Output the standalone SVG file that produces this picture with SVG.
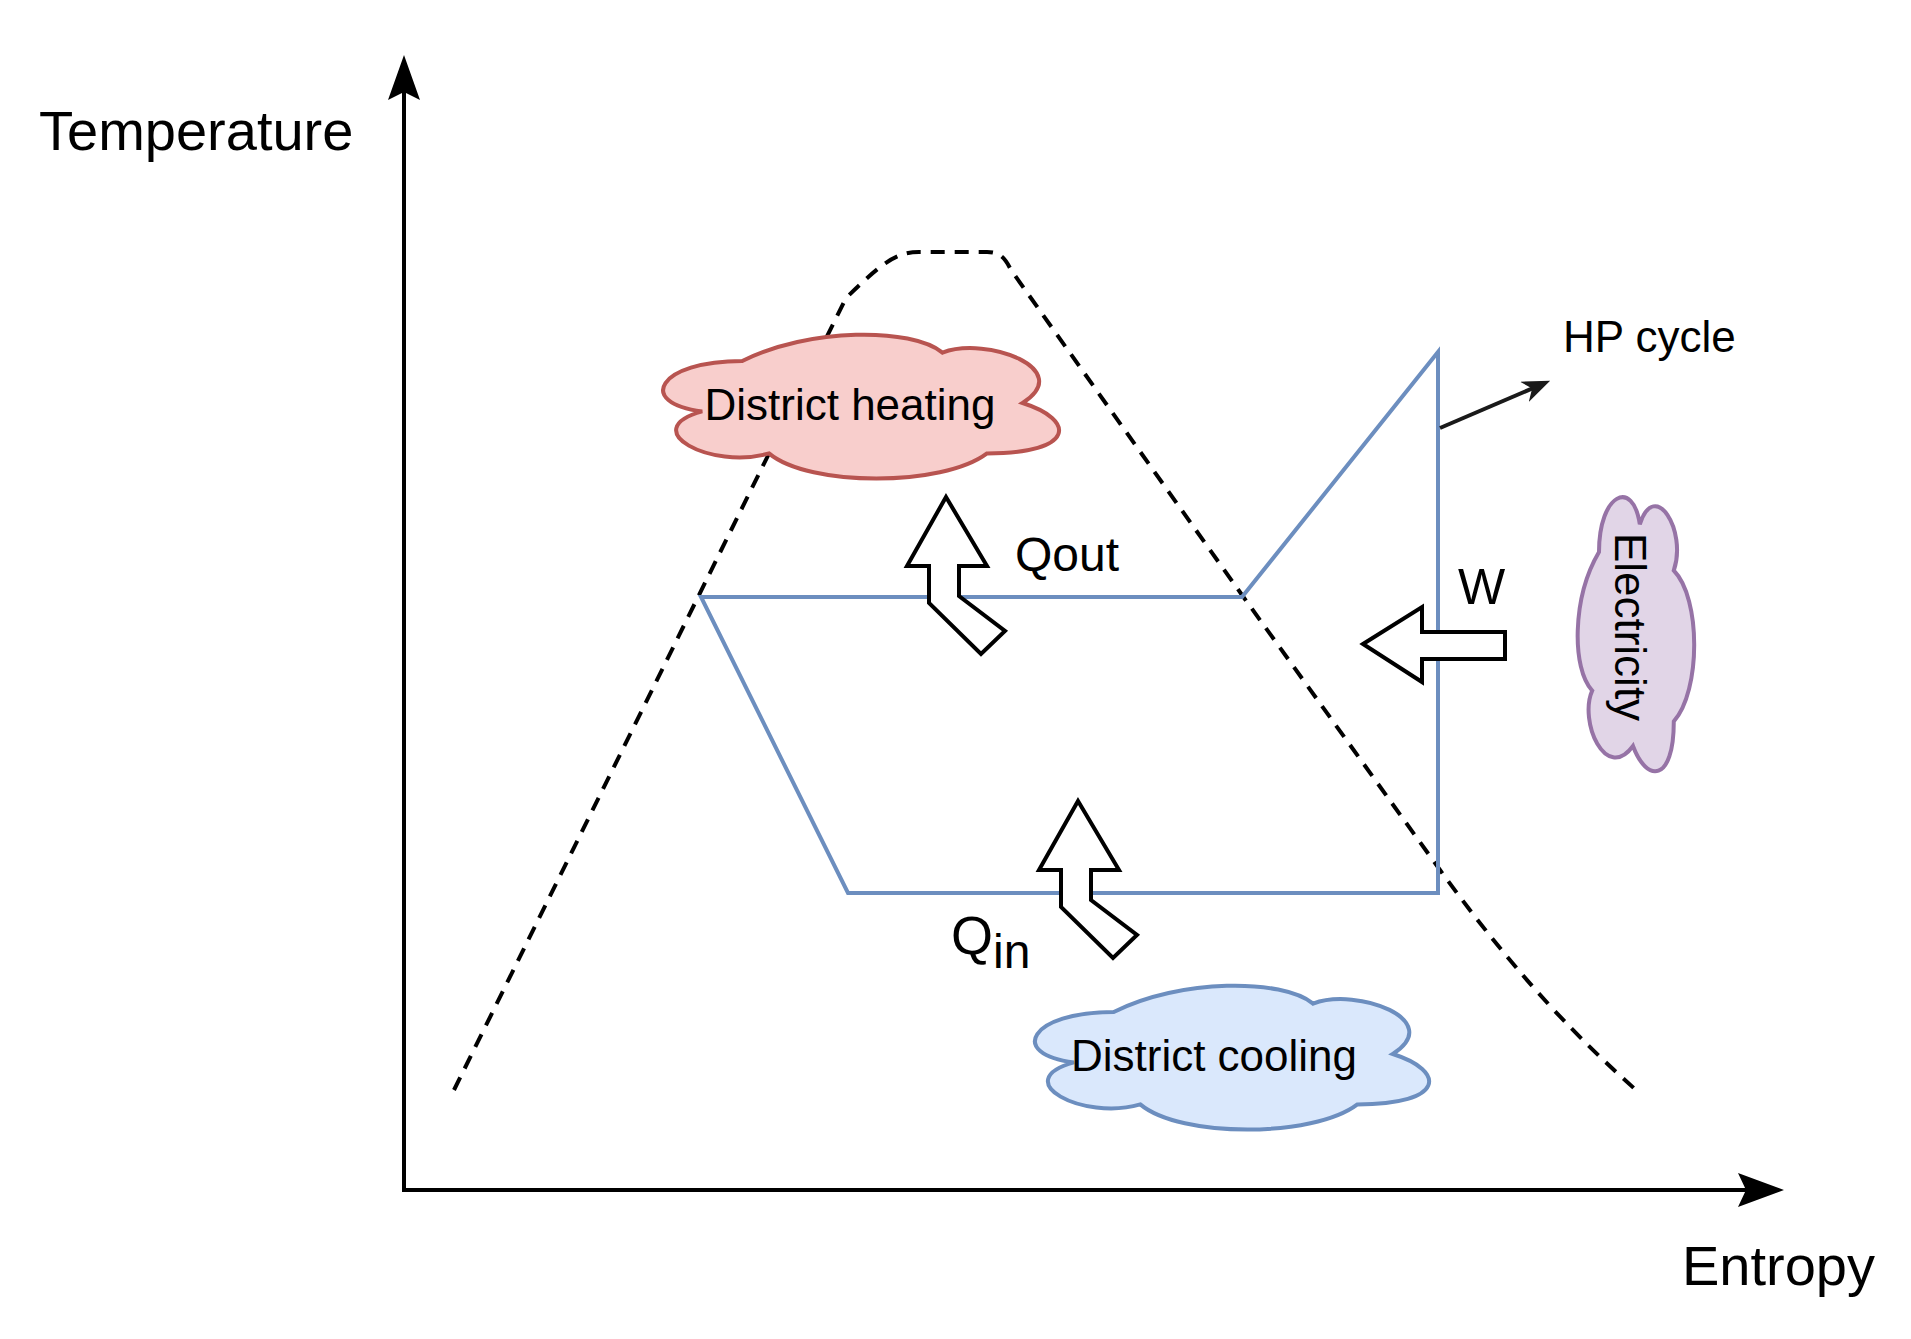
<svg xmlns="http://www.w3.org/2000/svg" width="1911" height="1339" viewBox="0 0 1911 1339">
<defs>
<style>
text{font-family:"Liberation Sans",Arial,sans-serif;fill:#000}
.cyc{fill:none;stroke:#6c8ebf;stroke-width:4}
.blk{fill:#fff;stroke:#000;stroke-width:4}
.cl{stroke-width:4}
</style>
<marker id="ah" markerWidth="28" markerHeight="22" refX="8" refY="5" orient="auto" markerUnits="userSpaceOnUse" viewBox="0 0 10 10" preserveAspectRatio="none"><path d="M0,0 L10,5 L0,10 L3,5 Z" fill="#1a1a1a"/></marker>
</defs>
<g id="axes">
<line x1="404" y1="1190" x2="404" y2="90" stroke="#000" stroke-width="4"/>
<path d="M404,55 L388,100 L404,92 L420,100 Z" fill="#000"/>
<line x1="402" y1="1190" x2="1750" y2="1190" stroke="#000" stroke-width="4"/>
<path d="M1784,1190 L1738,1173 L1746,1190 L1738,1207 Z" fill="#000"/>
</g>
<g id="dome"><path d="M454,1090 L846,298 C880,265 895,252 919,252 L987,252 C1000,252 1005,258 1011,270 L1242,595 L1440,870 C1520,980 1580,1040 1636,1090" fill="none" stroke="#000" stroke-width="4" stroke-dasharray="14 10"/></g>
<g id="cycle"><path class="cyc" d="M701,597 L1242,597 L1438,352 L1438,893 L848,893 Z"/></g>
<g id="heating">
<path class="cl" fill="#f8cecc" stroke="#b85450" d="M742.25,361 C657.7,361 635.5,403 702.2,411.4 C635.5,429.9 711.1,470.2 769,453.4 C809,487 942.5,487 987,453.4 C1076,453.4 1076,419.8 1022.6,403 C1076,369.4 987,335.8 942.5,352.6 C911.4,327.4 809,327.4 742.25,361 Z"/>
<text x="850" y="420" font-size="44" text-anchor="middle">District heating</text>
</g>
<g id="cooling">
<path class="cl" fill="#dae8fc" stroke="#6c8ebf" d="M1113.75,1012 C1029.6,1012 1007.4,1054 1073.9,1062.4 C1007.4,1080.9 1082.7,1121.2 1140.3,1104.4 C1180.2,1138 1313.1,1138 1357.4,1104.4 C1446,1104.4 1446,1070.8 1392.8,1054 C1446,1020.4 1357.4,986.8 1313.1,1003.6 C1282.1,978.4 1180.2,978.4 1113.75,1012 Z"/>
<text x="1214" y="1071" font-size="44" text-anchor="middle">District cooling</text>
</g>
<g id="electricity">
<path class="cl" fill="#e1d5e7" stroke="#9673a6" d="M1599,552 C1599,493.5 1633,478.1 1639.8,524.3 C1654.8,478.1 1687.4,530.4 1673.8,570.5 C1701,598.2 1701,690.6 1673.8,721.4 C1673.8,783 1646.6,783 1633,746 C1605.8,783 1578.6,721.4 1592.2,690.6 C1571.8,669 1571.8,598.2 1599,552 Z"/>
<text transform="translate(1615,627) rotate(90)" font-size="44" text-anchor="middle">Electricity</text>
</g>
<g id="arrows">
<path id="ba" class="blk" d="M946,497 L987,566 L959,566 L959,596 L1005,631 L981,654 L929,603 L929,566 L907,566 Z"/>
<use href="#ba" transform="translate(132,304)"/>
<path class="blk" d="M1363,644 L1422,607 L1422,632 L1505,632 L1505,659 L1422,659 L1422,682 Z"/>
<line x1="1440" y1="428" x2="1545" y2="383" stroke="#1a1a1a" stroke-width="4" marker-end="url(#ah)"/>
</g>
<g id="labels">
<text x="39" y="150" font-size="56">Temperature</text>
<text x="1682" y="1285" font-size="56">Entropy</text>
<text x="1563" y="352" font-size="44">HP cycle</text>
<text x="1458" y="604" font-size="50">W</text>
<text x="1015" y="571" font-size="48">Qout</text>
<text x="951" y="954" font-size="54">Q<tspan font-size="48" dy="14">in</tspan></text>
</g>
</svg>
